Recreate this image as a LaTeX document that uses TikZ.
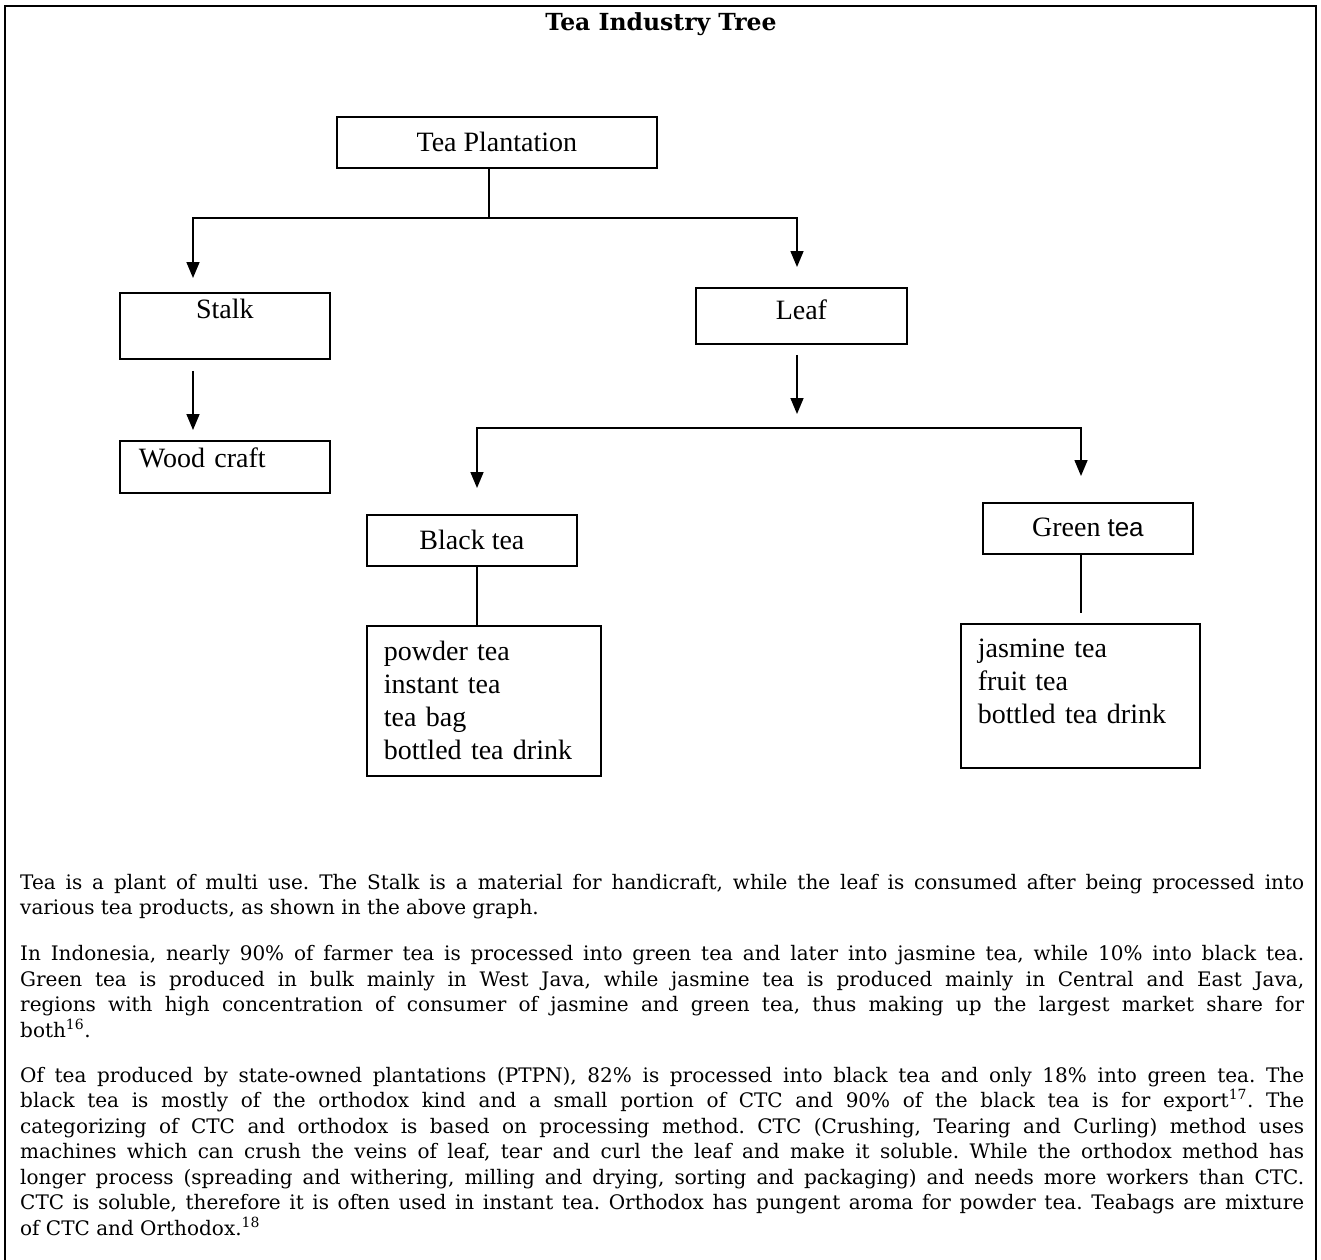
\documentclass[tikz,border=0pt]{standalone}
\usepackage{fontspec}
\setmainfont{Liberation Serif}
\newfontfamily\bodyfont{DejaVu Serif}
\newfontfamily\labelsans{Liberation Sans}
\usetikzlibrary{arrows.meta}

\begin{document}
\begin{tikzpicture}[x=1pt,y=-1pt,
  box/.style={draw, line width=1.8pt, inner ysep=0pt, font=\fontsize{28}{33}\selectfont},
  listbox/.style={box, align=left, inner xsep=17pt},
  conn/.style={line width=1.6pt},
  arr/.style={conn, -{Triangle[length=16pt,width=13pt]}},
  para/.style={inner sep=0pt, text width=1284pt, align=justify, anchor=base west,
    font=\bodyfont\fontsize{20}{25.5}\selectfont\frenchspacing}
]
\useasboundingbox (0,0) rectangle (1321,1259);

% outer frame
\draw[line width=2.5pt] (5,6) rectangle (1316,1263);

% title
\node[font=\bodyfont\bfseries\fontsize{23.5}{28}\selectfont, anchor=base] (title) at (661,30) {Tea Industry Tree};

% tree boxes
\node[box, anchor=north west, minimum width=320pt, text height=35pt, text depth=16pt] (tp) at (336,116) {Tea Plantation};
\node[box, anchor=north west, minimum width=210pt, text height=26pt, text depth=40pt] (stalk) at (119,292) {Stalk};
\node[box, anchor=north west, minimum width=211pt, text height=32pt, text depth=24pt] (leaf) at (695,287) {Leaf};
\node[box, anchor=north west, text width=172pt, inner xsep=19pt, align=left, text height=27pt, text depth=25pt] (wood) at (119,440) {Wood craft};
\node[box, anchor=north west, minimum width=210pt, text height=35pt, text depth=16pt] (btea) at (366,514) {Black tea};
\node[box, anchor=north west, minimum width=210pt, text height=34pt, text depth=17pt] (gtea) at (982,502) {Green {\labelsans\fontsize{26}{30}\selectfont tea}};
\node[listbox, anchor=north west, text width=200pt, text height=35pt, text depth=115pt] (bprod) at (366,625)
  {powder tea\\instant tea\\tea bag\\bottled tea drink};
\node[listbox, anchor=north west, text width=205pt, text height=34pt, text depth=110pt] (gprod) at (960,623)
  {jasmine tea\\fruit tea\\bottled tea drink};

% junctions and arrow ends
\coordinate (j1) at (489,218);
\coordinate (stalkIn) at (193,278);
\coordinate (leafIn) at (797,267);
\coordinate (leafOut) at (797,414);
\coordinate (j2) at (797,428);
\coordinate (blackIn) at (477,488);
\coordinate (greenIn) at (1081,476);

% connectors
\draw[conn] (tp.south -| j1) -- (j1);
\draw[arr] (j1) -| (stalkIn);
\draw[arr] (j1) -| (leafIn);
\draw[arr, shorten <=11pt, shorten >=10pt] (stalk.south -| stalkIn) -- (wood.north -| stalkIn);
\draw[arr, shorten <=10pt] (leaf.south -| leafOut) -- (leafOut);
\draw[arr] (j2) -| (blackIn);
\draw[arr] (j2) -| (greenIn);
\draw[conn] (btea.south -| blackIn) -- (bprod.north -| blackIn);
\draw[conn, shorten >=10pt] (gtea.south -| greenIn) -- (gprod.north -| greenIn);

% text below the tree
\node[para] (p1) at (20,889) {Tea is a plant of multi use. The Stalk is a material for handicraft, while the leaf is consumed after being processed into\linebreak
various tea products, as shown in the above graph.};
\node[para] (p2) at (20,960.5) {In Indonesia, nearly 90\% of farmer tea is processed into green tea and later into jasmine tea, while 10\% into black tea.\linebreak
Green tea is produced in bulk mainly in West Java, while jasmine tea is produced mainly in Central and East Java,\linebreak
regions with high concentration of consumer of jasmine and green tea, thus making up the largest market share for\linebreak
both\textsuperscript{16}.};
\node[para] (p3) at (20,1082) {Of tea produced by state-owned plantations (PTPN), 82\% is processed into black tea and only 18\% into green tea. The\linebreak
black tea is mostly of the orthodox kind and a small portion of CTC and 90\% of the black tea is for export\textsuperscript{17}. The\linebreak
categorizing of CTC and orthodox is based on processing method. CTC (Crushing, Tearing and Curling) method uses\linebreak
machines which can crush the veins of leaf, tear and curl the leaf and make it soluble. While the orthodox method has\linebreak
longer process (spreading and withering, milling and drying, sorting and packaging) and needs more workers than CTC.\linebreak
CTC is soluble, therefore it is often used in instant tea. Orthodox has pungent aroma for powder tea. Teabags are mixture\linebreak
of CTC and Orthodox.\textsuperscript{18}};
\end{tikzpicture}
\end{document}
